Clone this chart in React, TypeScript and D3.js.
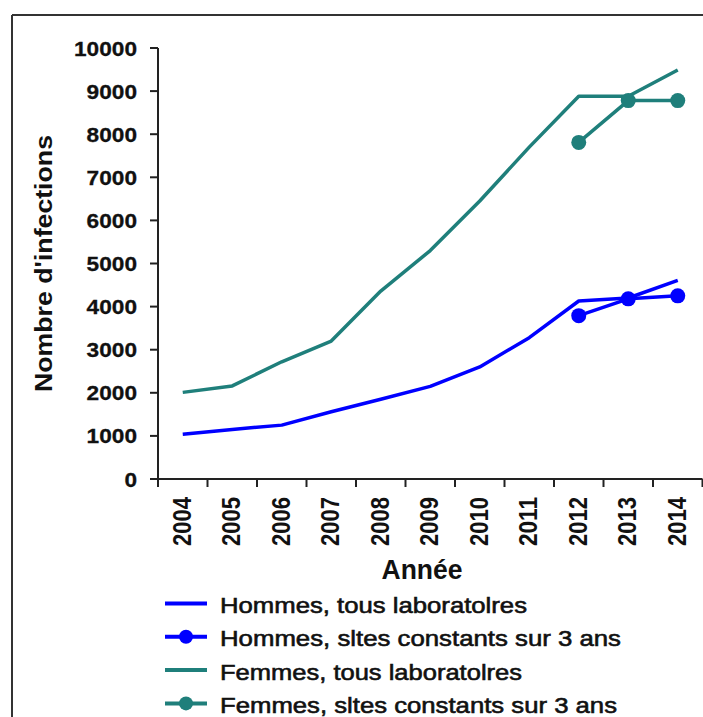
import React from "react";
import * as d3 from "d3";

const years = ["2004", "2005", "2006", "2007", "2008", "2009", "2010", "2011", "2012", "2013", "2014"];
const hommesTous = [1040, 1150, 1250, 1560, 1850, 2150, 2600, 3280, 4130, 4200, 4610];
const femmesTous = [2010, 2160, 2720, 3200, 4360, 5300, 6450, 7700, 8880, 8880, 9490];
const sitesYears = ["2012", "2013", "2014"];
const hommesSites = [3790, 4180, 4250];
const femmesSites = [7810, 8780, 8780];
const yTicks = [0, 1000, 2000, 3000, 4000, 5000, 6000, 7000, 8000, 9000, 10000];
const legendLabels = [
  "Hommes, tous laboratolres",
  "Hommes, sltes constants sur 3 ans",
  "Femmes, tous laboratolres",
  "Femmes, sltes constants sur 3 ans",
];
const legendLengths = [307, 401, 302, 397];

const BLUE = "#0000ff";
const TEAL = "#1f7f7b";
const FONT = "'Liberation Sans', Arial, sans-serif";

export default function App() {
  const W = 703;
  const H = 717;
  const x = d3.scaleBand<string>().domain(years).range([158, 702.5]).padding(0);
  const y = d3.scaleLinear().domain([0, 10000]).range([479, 48]);
  const cx = (yr: string) => (x(yr) as number) + x.bandwidth() / 2;

  const line = d3
    .line<[string, number]>()
    .x((d) => cx(d[0]))
    .y((d) => y(d[1]));

  const series = [
    { data: years.map((yr, i) => [yr, femmesTous[i]] as [string, number]), color: TEAL, markers: false },
    { data: sitesYears.map((yr, i) => [yr, femmesSites[i]] as [string, number]), color: TEAL, markers: true },
    { data: years.map((yr, i) => [yr, hommesTous[i]] as [string, number]), color: BLUE, markers: false },
    { data: sitesYears.map((yr, i) => [yr, hommesSites[i]] as [string, number]), color: BLUE, markers: true },
  ];
  const legendColors = [BLUE, BLUE, TEAL, TEAL];
  const legendMarkers = [false, true, false, true];

  const boundaries = years.map((yr) => x(yr) as number).concat([702.5]);

  return (
    <svg width={W} height={H} style={{ position: "absolute", left: 0, top: 0, background: "#fff" }}>
      <rect x={0} y={0} width={W} height={H} fill="#fff" />
      {/* frame */}
      <line x1={12} y1={15} x2={W} y2={15} stroke="#333" strokeWidth={2} />
      <line x1={12} y1={15} x2={12} y2={H} stroke="#333" strokeWidth={2} />

      {/* y axis */}
      <line x1={158} y1={y(10000)} x2={158} y2={y(0)} stroke="#222" strokeWidth={2} />
      {yTicks.map((t) => (
        <g key={t}>
          <line x1={150} x2={158} y1={y(t)} y2={y(t)} stroke="#222" strokeWidth={2} />
          <text
            x={137}
            y={y(t) + 7.5}
            textAnchor="end"
            fontFamily={FONT}
            fontWeight="bold"
            fontSize={21}
            fill="#111"
            stroke="#111"
            strokeWidth={0.3}
            textLength={String(t).length * 12.6}
            lengthAdjust="spacingAndGlyphs"
          >
            {t}
          </text>
        </g>
      ))}

      {/* x axis */}
      <line x1={150} y1={479} x2={702.5} y2={479} stroke="#222" strokeWidth={2} />
      {boundaries.map((b, i) => (
        <line key={i} x1={b} x2={b} y1={479} y2={487} stroke="#222" strokeWidth={2} />
      ))}
      {years.map((yr) => (
        <text
          key={yr}
          transform={`translate(${cx(yr) + 8},497) rotate(-90)`}
          textAnchor="end"
          fontFamily={FONT}
          fontWeight="bold"
          fontSize={25}
          fill="#111"
          textLength={49}
          lengthAdjust="spacingAndGlyphs"
        >
          {yr}
        </text>
      ))}

      {/* axis titles */}
      <text
        transform={`translate(52,${(y(0) + y(10000)) / 2}) rotate(-90)`}
        textAnchor="middle"
        fontFamily={FONT}
        fontWeight="bold"
        fontSize={23}
        fill="#111"
        textLength={257}
        lengthAdjust="spacingAndGlyphs"
      >
        Nombre d'infections
      </text>
      <text
        x={422}
        y={579}
        textAnchor="middle"
        fontFamily={FONT}
        fontWeight="bold"
        fontSize={27}
        fill="#111"
        textLength={81}
        lengthAdjust="spacingAndGlyphs"
      >
        Année
      </text>

      {/* series */}
      {series.map((s, i) => (
        <g key={i}>
          <path d={line(s.data) as string} fill="none" stroke={s.color} strokeWidth={3.5} strokeLinejoin="round" />
          {s.markers &&
            s.data.map((d, j) => <circle key={j} cx={cx(d[0])} cy={y(d[1])} r={7.5} fill={s.color} />)}
        </g>
      ))}

      {/* legend */}
      {legendLabels.map((lab, i) => {
        const base = 613 + i * 33.3;
        const ly = base - 9.5;
        return (
          <g key={lab}>
            <line x1={165} x2={207} y1={ly} y2={ly} stroke={legendColors[i]} strokeWidth={4} />
            {legendMarkers[i] && <circle cx={186} cy={ly} r={7} fill={legendColors[i]} />}
            <text
              x={220}
              y={base}
              fontFamily={FONT}
              fontSize={22}
              fill="#111"
              stroke="#111"
              strokeWidth={0.6}
              textLength={legendLengths[i]}
              lengthAdjust="spacingAndGlyphs"
            >
              {lab}
            </text>
          </g>
        );
      })}
    </svg>
  );
}
